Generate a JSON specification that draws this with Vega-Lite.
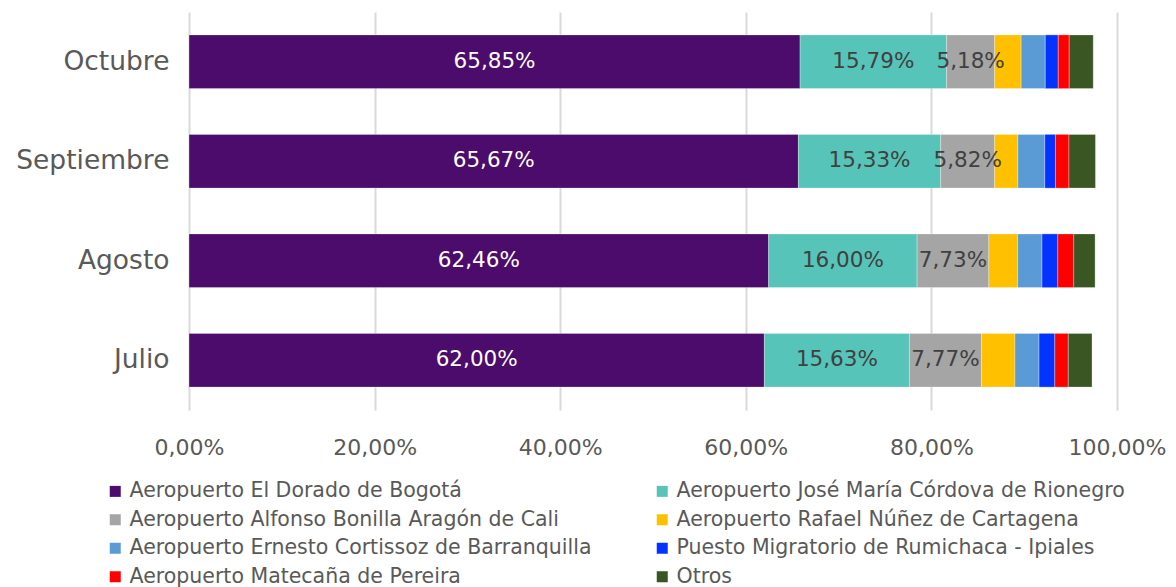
{
  "$schema": "https://vega.github.io/schema/vega-lite/v6.json",
  "autosize": "none",
  "width": 928,
  "height": 398,
  "padding": {"left": 189, "top": 12, "right": 59, "bottom": 177},
  "background": "white",
  "config": {"view": {"stroke": null}, "font": "DejaVu Sans"},
  "data": {"values": [
    {"mes": "Octubre", "aeropuerto": "Aeropuerto El Dorado de Bogotá", "orden": 1, "valor": 65.85},
    {"mes": "Octubre", "aeropuerto": "Aeropuerto José María Córdova de Rionegro", "orden": 2, "valor": 15.79},
    {"mes": "Octubre", "aeropuerto": "Aeropuerto Alfonso Bonilla Aragón de Cali", "orden": 3, "valor": 5.18},
    {"mes": "Octubre", "aeropuerto": "Aeropuerto Rafael Núñez de Cartagena", "orden": 4, "valor": 2.85},
    {"mes": "Octubre", "aeropuerto": "Aeropuerto Ernesto Cortissoz de Barranquilla", "orden": 5, "valor": 2.6},
    {"mes": "Octubre", "aeropuerto": "Puesto Migratorio de Rumichaca - Ipiales", "orden": 6, "valor": 1.4},
    {"mes": "Octubre", "aeropuerto": "Aeropuerto Matecaña de Pereira", "orden": 7, "valor": 1.18},
    {"mes": "Octubre", "aeropuerto": "Otros", "orden": 8, "valor": 2.59},
    {"mes": "Septiembre", "aeropuerto": "Aeropuerto El Dorado de Bogotá", "orden": 1, "valor": 65.67},
    {"mes": "Septiembre", "aeropuerto": "Aeropuerto José María Córdova de Rionegro", "orden": 2, "valor": 15.33},
    {"mes": "Septiembre", "aeropuerto": "Aeropuerto Alfonso Bonilla Aragón de Cali", "orden": 3, "valor": 5.82},
    {"mes": "Septiembre", "aeropuerto": "Aeropuerto Rafael Núñez de Cartagena", "orden": 4, "valor": 2.5},
    {"mes": "Septiembre", "aeropuerto": "Aeropuerto Ernesto Cortissoz de Barranquilla", "orden": 5, "valor": 2.9},
    {"mes": "Septiembre", "aeropuerto": "Puesto Migratorio de Rumichaca - Ipiales", "orden": 6, "valor": 1.15},
    {"mes": "Septiembre", "aeropuerto": "Aeropuerto Matecaña de Pereira", "orden": 7, "valor": 1.45},
    {"mes": "Septiembre", "aeropuerto": "Otros", "orden": 8, "valor": 2.86},
    {"mes": "Agosto", "aeropuerto": "Aeropuerto El Dorado de Bogotá", "orden": 1, "valor": 62.46},
    {"mes": "Agosto", "aeropuerto": "Aeropuerto José María Córdova de Rionegro", "orden": 2, "valor": 16.0},
    {"mes": "Agosto", "aeropuerto": "Aeropuerto Alfonso Bonilla Aragón de Cali", "orden": 3, "valor": 7.73},
    {"mes": "Agosto", "aeropuerto": "Aeropuerto Rafael Núñez de Cartagena", "orden": 4, "valor": 3.1},
    {"mes": "Agosto", "aeropuerto": "Aeropuerto Ernesto Cortissoz de Barranquilla", "orden": 5, "valor": 2.63},
    {"mes": "Agosto", "aeropuerto": "Puesto Migratorio de Rumichaca - Ipiales", "orden": 6, "valor": 1.7},
    {"mes": "Agosto", "aeropuerto": "Aeropuerto Matecaña de Pereira", "orden": 7, "valor": 1.72},
    {"mes": "Agosto", "aeropuerto": "Otros", "orden": 8, "valor": 2.3},
    {"mes": "Julio", "aeropuerto": "Aeropuerto El Dorado de Bogotá", "orden": 1, "valor": 62.0},
    {"mes": "Julio", "aeropuerto": "Aeropuerto José María Córdova de Rionegro", "orden": 2, "valor": 15.63},
    {"mes": "Julio", "aeropuerto": "Aeropuerto Alfonso Bonilla Aragón de Cali", "orden": 3, "valor": 7.77},
    {"mes": "Julio", "aeropuerto": "Aeropuerto Rafael Núñez de Cartagena", "orden": 4, "valor": 3.6},
    {"mes": "Julio", "aeropuerto": "Aeropuerto Ernesto Cortissoz de Barranquilla", "orden": 5, "valor": 2.6},
    {"mes": "Julio", "aeropuerto": "Puesto Migratorio de Rumichaca - Ipiales", "orden": 6, "valor": 1.7},
    {"mes": "Julio", "aeropuerto": "Aeropuerto Matecaña de Pereira", "orden": 7, "valor": 1.45},
    {"mes": "Julio", "aeropuerto": "Otros", "orden": 8, "valor": 2.56}
  ]},
  "transform": [
    {"stack": "valor", "groupby": ["mes"], "sort": [{"field": "orden", "order": "ascending"}], "as": ["x0", "x1"]},
    {"calculate": "(datum.x0 + datum.x1) / 2", "as": "xmid"},
    {"calculate": "replace(format(datum.valor, '.2f'), '.', ',') + '%'", "as": "etiqueta"}
  ],
  "encoding": {
    "y": {"field": "mes", "type": "nominal", "sort": ["Octubre", "Septiembre", "Agosto", "Julio"],
      "scale": {"paddingInner": 0.46, "paddingOuter": 0.23},
      "axis": {"title": null, "domain": false, "ticks": false, "labelFontSize": 26.5, "labelColor": "#595959", "labelPadding": 20}}
  },
  "layer": [
    {
      "mark": {"type": "bar", "stroke": "white", "strokeWidth": 0.5, "strokeOpacity": 0.6},
      "encoding": {
        "x": {"field": "x0", "type": "quantitative", "scale": {"domain": [0, 100], "nice": false},
          "axis": {"title": null, "values": [0, 20, 40, 60, 80, 100], "domain": false, "ticks": false, "labelFlush": false,
            "gridColor": "#d9d9d9", "gridWidth": 2, "labelFontSize": 22, "labelColor": "#595959", "labelPadding": 27,
            "labelExpr": "replace(format(datum.value, '.2f'), '.', ',') + '%'"}},
        "x2": {"field": "x1"},
        "color": {"field": "aeropuerto", "type": "nominal",
          "scale": {
            "domain": ["Aeropuerto El Dorado de Bogotá", "Aeropuerto José María Córdova de Rionegro", "Aeropuerto Alfonso Bonilla Aragón de Cali", "Aeropuerto Rafael Núñez de Cartagena", "Aeropuerto Ernesto Cortissoz de Barranquilla", "Puesto Migratorio de Rumichaca - Ipiales", "Aeropuerto Matecaña de Pereira", "Otros"],
            "range": ["#4b0c6b", "#56c4b9", "#a5a5a5", "#ffc000", "#5b9bd5", "#0433ff", "#ff0000", "#3a5623"]},
          "legend": {"title": null, "orient": "none", "legendX": -84, "legendY": 469, "columns": 2, "direction": "horizontal",
            "symbolType": "square", "symbolSize": 121, "symbolStrokeWidth": 0, "labelFontSize": 20.5, "labelColor": "#595959",
            "rowPadding": 7.5, "columnPadding": 60, "labelLimit": 600, "symbolOffset": 0, "labelOffset": 4}}
      }
    },
    {
      "transform": [{"filter": "datum.orden <= 3"}],
      "mark": {"type": "text", "fontSize": 21.5, "align": "center", "baseline": "middle"},
      "encoding": {
        "x": {"field": "xmid", "type": "quantitative"},
        "text": {"field": "etiqueta", "type": "nominal"},
        "color": {"condition": {"test": "datum.orden == 1", "value": "white"}, "value": "#404040"}
      }
    }
  ]
}
